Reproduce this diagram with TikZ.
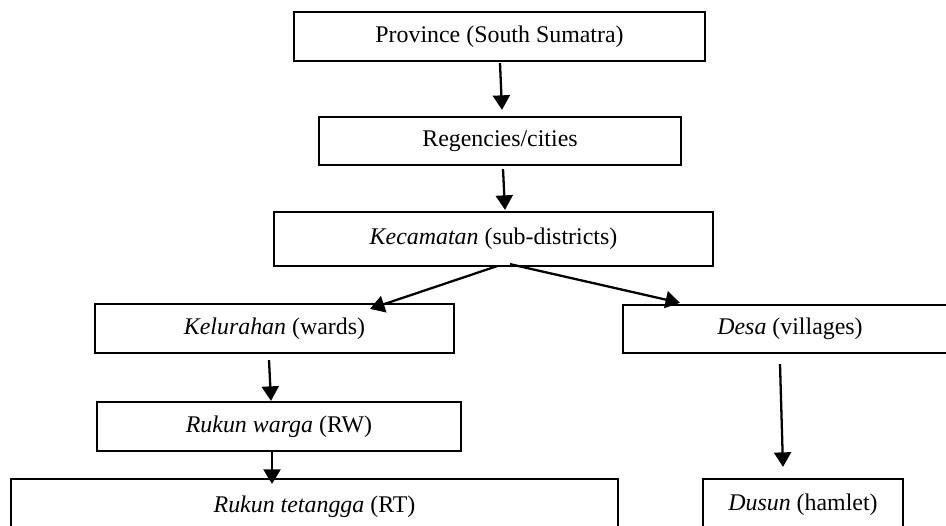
\documentclass[tikz,border=0pt]{standalone}
\usepackage{fontspec}
\setmainfont{Liberation Serif}
\usepackage{tikz}
\usetikzlibrary{arrows.meta,calc}

\begin{document}
\begin{tikzpicture}[x=0.02cm,y=-0.02cm,
box/.style={draw,line width=1.3pt,inner sep=0pt,font=\fontsize{13.6}{16}\selectfont},
arr/.style={line width=1.3pt,-{Triangle[length=0.29cm,width=0.34cm]}}]
\useasboundingbox (0,0) rectangle (946,526);
\node[box,minimum width=8.22cm,minimum height=0.98cm] (prov) at (499.5,36.5) {Province (South Sumatra)};
\node[box,minimum width=7.24cm,minimum height=0.96cm] (reg) at (500,141) {Regencies/cities};
\node[box,minimum width=8.78cm,minimum height=1.08cm] (kec) at (493.5,239) {\textit{Kecamatan} (sub-districts)};
\node[box,minimum width=7.18cm,minimum height=0.98cm] (kel) at (274.5,328.5) {\textit{Kelurahan} (wards)};
\node[box,minimum width=6.68cm,minimum height=0.96cm] (desa) at (790,329) {\textit{Desa} (villages)};
\node[box,minimum width=7.28cm,minimum height=0.98cm] (rw) at (279,426.5) {\textit{Rukun warga} (RW)};
\node[box,minimum width=12.14cm,minimum height=1.12cm] (rt) at (314.5,507) {\textit{Rukun tetangga} (RT)};
\node[box,minimum width=4cm,minimum height=1.04cm] (dusun) at (803,505) {\textit{Dusun} (hamlet)};
% arrows
\draw[arr] ($(prov.south)+(0.5,1)$)--($(reg.north)+(2,-6)$);
\draw[arr] ($(reg.south)+(3,3)$)--($(kec.north)+(11.5,-1)$);
\draw[arr] ($(kec.south)+(3.5,-1)$)--($(kel.north)+(95.5,6)$);
\draw[arr] ($(kec.south)+(16.5,-3)$)--($(desa.north)+(-110,-1)$);
\draw[arr] ($(kel.south)+(-5.5,6)$)--($(rw.north)+(-8,0)$);
\draw[arr] (rw.south -| 272,0)--($(rt.north -| 272,0)+(0,6)$);
\draw[arr] ($(desa.south)+(-10,10)$)--($(dusun.north)+(-20,-11)$);
\end{tikzpicture}
\end{document}
